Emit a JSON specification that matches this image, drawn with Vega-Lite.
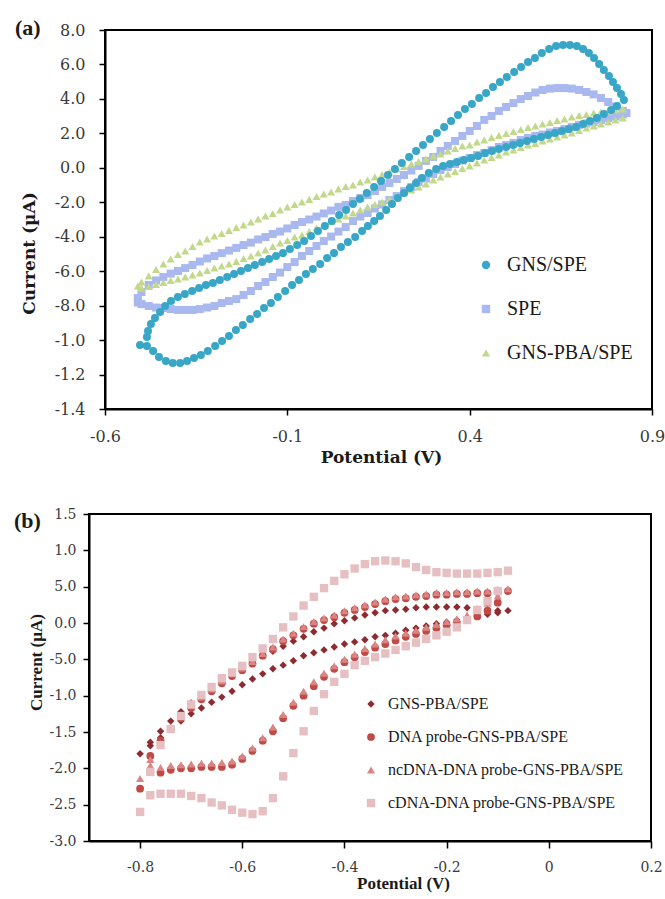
{
  "$schema": "https://vega.github.io/schema/vega-lite/v6.json",
  "padding": {"left": 13, "top": 16, "right": 5, "bottom": 5},
  "background": "white",
  "config": {
    "view": {"stroke": "black", "strokeWidth": 2},
    "axis": {"grid": false, "domainColor": "black", "domainWidth": 2, "tickColor": "black", "tickWidth": 1.5, "labelColor": "#3a3a3a", "titleColor": "#1a1a1a"}
  },
  "datasets": {
    "a": [
      {"s":"SPE","x":-0.51,"y":-7.56},{"s":"SPE","x":-0.50,"y":-7.21},{"s":"SPE","x":-0.48,"y":-6.80},{"s":"SPE","x":-0.46,"y":-6.54},{"s":"SPE","x":-0.44,"y":-6.34},{"s":"SPE","x":-0.42,"y":-6.14},{"s":"SPE","x":-0.40,"y":-5.99},{"s":"SPE","x":-0.38,"y":-5.82},{"s":"SPE","x":-0.36,"y":-5.64},{"s":"SPE","x":-0.34,"y":-5.44},{"s":"SPE","x":-0.32,"y":-5.26},{"s":"SPE","x":-0.30,"y":-5.12},{"s":"SPE","x":-0.28,"y":-4.95},{"s":"SPE","x":-0.26,"y":-4.80},{"s":"SPE","x":-0.24,"y":-4.65},{"s":"SPE","x":-0.22,"y":-4.48},{"s":"SPE","x":-0.20,"y":-4.34},{"s":"SPE","x":-0.18,"y":-4.16},{"s":"SPE","x":-0.16,"y":-4.02},{"s":"SPE","x":-0.14,"y":-3.84},{"s":"SPE","x":-0.12,"y":-3.70},{"s":"SPE","x":-0.10,"y":-3.52},{"s":"SPE","x":-0.08,"y":-3.32},{"s":"SPE","x":-0.06,"y":-3.15},{"s":"SPE","x":-0.04,"y":-3.00},{"s":"SPE","x":-0.02,"y":-2.83},{"s":"SPE","x":0.00,"y":-2.65},{"s":"SPE","x":0.02,"y":-2.48},{"s":"SPE","x":0.04,"y":-2.27},{"s":"SPE","x":0.06,"y":-2.16},{"s":"SPE","x":0.08,"y":-1.93},{"s":"SPE","x":0.10,"y":-1.75},{"s":"SPE","x":0.12,"y":-1.58},{"s":"SPE","x":0.14,"y":-1.35},{"s":"SPE","x":0.16,"y":-1.11},{"s":"SPE","x":0.18,"y":-0.88},{"s":"SPE","x":0.20,"y":-0.65},{"s":"SPE","x":0.22,"y":-0.42},{"s":"SPE","x":0.24,"y":-0.16},{"s":"SPE","x":0.26,"y":0.11},{"s":"SPE","x":0.28,"y":0.40},{"s":"SPE","x":0.30,"y":0.63},{"s":"SPE","x":0.32,"y":0.98},{"s":"SPE","x":0.34,"y":1.27},{"s":"SPE","x":0.36,"y":1.56},{"s":"SPE","x":0.38,"y":1.85},{"s":"SPE","x":0.40,"y":2.14},{"s":"SPE","x":0.42,"y":2.43},{"s":"SPE","x":0.44,"y":2.78},{"s":"SPE","x":0.46,"y":3.01},{"s":"SPE","x":0.48,"y":3.30},{"s":"SPE","x":0.50,"y":3.53},{"s":"SPE","x":0.52,"y":3.76},{"s":"SPE","x":0.54,"y":3.99},{"s":"SPE","x":0.56,"y":4.17},{"s":"SPE","x":0.58,"y":4.37},{"s":"SPE","x":0.60,"y":4.52},{"s":"SPE","x":0.62,"y":4.60},{"s":"SPE","x":0.64,"y":4.63},{"s":"SPE","x":0.66,"y":4.63},{"s":"SPE","x":0.68,"y":4.60},{"s":"SPE","x":0.70,"y":4.52},{"s":"SPE","x":0.72,"y":4.40},{"s":"SPE","x":0.74,"y":4.26},{"s":"SPE","x":0.76,"y":4.05},{"s":"SPE","x":0.78,"y":3.82},{"s":"SPE","x":0.80,"y":3.56},{"s":"SPE","x":0.82,"y":3.30},{"s":"SPE","x":0.83,"y":3.18},
      {"s":"SPE","x":-0.51,"y":-7.82},{"s":"SPE","x":-0.50,"y":-7.91},{"s":"SPE","x":-0.48,"y":-8.02},{"s":"SPE","x":-0.46,"y":-8.11},{"s":"SPE","x":-0.44,"y":-8.14},{"s":"SPE","x":-0.42,"y":-8.20},{"s":"SPE","x":-0.40,"y":-8.25},{"s":"SPE","x":-0.38,"y":-8.25},{"s":"SPE","x":-0.36,"y":-8.25},{"s":"SPE","x":-0.34,"y":-8.20},{"s":"SPE","x":-0.32,"y":-8.11},{"s":"SPE","x":-0.30,"y":-8.02},{"s":"SPE","x":-0.28,"y":-7.85},{"s":"SPE","x":-0.26,"y":-7.73},{"s":"SPE","x":-0.24,"y":-7.62},{"s":"SPE","x":-0.22,"y":-7.38},{"s":"SPE","x":-0.20,"y":-7.15},{"s":"SPE","x":-0.18,"y":-6.86},{"s":"SPE","x":-0.16,"y":-6.63},{"s":"SPE","x":-0.14,"y":-6.34},{"s":"SPE","x":-0.12,"y":-6.08},{"s":"SPE","x":-0.10,"y":-5.76},{"s":"SPE","x":-0.08,"y":-5.47},{"s":"SPE","x":-0.06,"y":-5.12},{"s":"SPE","x":-0.04,"y":-4.83},{"s":"SPE","x":-0.02,"y":-4.54},{"s":"SPE","x":0.00,"y":-4.25},{"s":"SPE","x":0.02,"y":-3.99},{"s":"SPE","x":0.04,"y":-3.70},{"s":"SPE","x":0.06,"y":-3.44},{"s":"SPE","x":0.08,"y":-3.09},{"s":"SPE","x":0.10,"y":-2.83},{"s":"SPE","x":0.12,"y":-2.62},{"s":"SPE","x":0.14,"y":-2.36},{"s":"SPE","x":0.16,"y":-2.13},{"s":"SPE","x":0.18,"y":-1.87},{"s":"SPE","x":0.20,"y":-1.64},{"s":"SPE","x":0.22,"y":-1.35},{"s":"SPE","x":0.24,"y":-1.11},{"s":"SPE","x":0.26,"y":-0.82},{"s":"SPE","x":0.28,"y":-0.62},{"s":"SPE","x":0.30,"y":-0.36},{"s":"SPE","x":0.32,"y":-0.13},{"s":"SPE","x":0.34,"y":0.05},{"s":"SPE","x":0.36,"y":0.22},{"s":"SPE","x":0.38,"y":0.42},{"s":"SPE","x":0.40,"y":0.57},{"s":"SPE","x":0.42,"y":0.74},{"s":"SPE","x":0.44,"y":0.86},{"s":"SPE","x":0.46,"y":1.03},{"s":"SPE","x":0.48,"y":1.21},{"s":"SPE","x":0.50,"y":1.32},{"s":"SPE","x":0.52,"y":1.44},{"s":"SPE","x":0.54,"y":1.61},{"s":"SPE","x":0.56,"y":1.73},{"s":"SPE","x":0.58,"y":1.85},{"s":"SPE","x":0.60,"y":1.93},{"s":"SPE","x":0.62,"y":2.05},{"s":"SPE","x":0.64,"y":2.14},{"s":"SPE","x":0.66,"y":2.25},{"s":"SPE","x":0.68,"y":2.37},{"s":"SPE","x":0.70,"y":2.49},{"s":"SPE","x":0.72,"y":2.57},{"s":"SPE","x":0.74,"y":2.66},{"s":"SPE","x":0.76,"y":2.78},{"s":"SPE","x":0.78,"y":2.89},{"s":"SPE","x":0.80,"y":2.98},{"s":"SPE","x":0.82,"y":3.10},
      {"s":"GNS-PBA/SPE","x":-0.51,"y":-6.86},{"s":"GNS-PBA/SPE","x":-0.50,"y":-6.63},{"s":"GNS-PBA/SPE","x":-0.48,"y":-6.28},{"s":"GNS-PBA/SPE","x":-0.46,"y":-5.90},{"s":"GNS-PBA/SPE","x":-0.44,"y":-5.58},{"s":"GNS-PBA/SPE","x":-0.42,"y":-5.29},{"s":"GNS-PBA/SPE","x":-0.40,"y":-5.03},{"s":"GNS-PBA/SPE","x":-0.38,"y":-4.83},{"s":"GNS-PBA/SPE","x":-0.36,"y":-4.57},{"s":"GNS-PBA/SPE","x":-0.34,"y":-4.31},{"s":"GNS-PBA/SPE","x":-0.32,"y":-4.13},{"s":"GNS-PBA/SPE","x":-0.30,"y":-3.96},{"s":"GNS-PBA/SPE","x":-0.28,"y":-3.81},{"s":"GNS-PBA/SPE","x":-0.26,"y":-3.64},{"s":"GNS-PBA/SPE","x":-0.24,"y":-3.46},{"s":"GNS-PBA/SPE","x":-0.22,"y":-3.32},{"s":"GNS-PBA/SPE","x":-0.20,"y":-3.15},{"s":"GNS-PBA/SPE","x":-0.18,"y":-2.97},{"s":"GNS-PBA/SPE","x":-0.16,"y":-2.80},{"s":"GNS-PBA/SPE","x":-0.14,"y":-2.65},{"s":"GNS-PBA/SPE","x":-0.12,"y":-2.45},{"s":"GNS-PBA/SPE","x":-0.10,"y":-2.27},{"s":"GNS-PBA/SPE","x":-0.08,"y":-2.13},{"s":"GNS-PBA/SPE","x":-0.06,"y":-1.98},{"s":"GNS-PBA/SPE","x":-0.04,"y":-1.84},{"s":"GNS-PBA/SPE","x":-0.02,"y":-1.66},{"s":"GNS-PBA/SPE","x":0.00,"y":-1.52},{"s":"GNS-PBA/SPE","x":0.02,"y":-1.40},{"s":"GNS-PBA/SPE","x":0.04,"y":-1.23},{"s":"GNS-PBA/SPE","x":0.06,"y":-1.08},{"s":"GNS-PBA/SPE","x":0.08,"y":-1.00},{"s":"GNS-PBA/SPE","x":0.10,"y":-0.82},{"s":"GNS-PBA/SPE","x":0.12,"y":-0.71},{"s":"GNS-PBA/SPE","x":0.14,"y":-0.53},{"s":"GNS-PBA/SPE","x":0.16,"y":-0.39},{"s":"GNS-PBA/SPE","x":0.18,"y":-0.24},{"s":"GNS-PBA/SPE","x":0.20,"y":-0.07},{"s":"GNS-PBA/SPE","x":0.22,"y":0.08},{"s":"GNS-PBA/SPE","x":0.24,"y":0.22},{"s":"GNS-PBA/SPE","x":0.26,"y":0.37},{"s":"GNS-PBA/SPE","x":0.28,"y":0.51},{"s":"GNS-PBA/SPE","x":0.30,"y":0.69},{"s":"GNS-PBA/SPE","x":0.32,"y":0.80},{"s":"GNS-PBA/SPE","x":0.34,"y":0.98},{"s":"GNS-PBA/SPE","x":0.36,"y":1.12},{"s":"GNS-PBA/SPE","x":0.38,"y":1.27},{"s":"GNS-PBA/SPE","x":0.40,"y":1.32},{"s":"GNS-PBA/SPE","x":0.42,"y":1.50},{"s":"GNS-PBA/SPE","x":0.44,"y":1.61},{"s":"GNS-PBA/SPE","x":0.46,"y":1.76},{"s":"GNS-PBA/SPE","x":0.48,"y":1.88},{"s":"GNS-PBA/SPE","x":0.50,"y":1.99},{"s":"GNS-PBA/SPE","x":0.52,"y":2.11},{"s":"GNS-PBA/SPE","x":0.54,"y":2.22},{"s":"GNS-PBA/SPE","x":0.56,"y":2.34},{"s":"GNS-PBA/SPE","x":0.58,"y":2.43},{"s":"GNS-PBA/SPE","x":0.60,"y":2.54},{"s":"GNS-PBA/SPE","x":0.62,"y":2.63},{"s":"GNS-PBA/SPE","x":0.64,"y":2.75},{"s":"GNS-PBA/SPE","x":0.66,"y":2.83},{"s":"GNS-PBA/SPE","x":0.68,"y":2.95},{"s":"GNS-PBA/SPE","x":0.70,"y":3.04},{"s":"GNS-PBA/SPE","x":0.72,"y":3.10},{"s":"GNS-PBA/SPE","x":0.74,"y":3.18},{"s":"GNS-PBA/SPE","x":0.76,"y":3.24},{"s":"GNS-PBA/SPE","x":0.78,"y":3.30},{"s":"GNS-PBA/SPE","x":0.80,"y":3.36},{"s":"GNS-PBA/SPE","x":0.82,"y":3.41},
      {"s":"GNS-PBA/SPE","x":-0.50,"y":-6.98},{"s":"GNS-PBA/SPE","x":-0.48,"y":-6.89},{"s":"GNS-PBA/SPE","x":-0.46,"y":-6.77},{"s":"GNS-PBA/SPE","x":-0.44,"y":-6.66},{"s":"GNS-PBA/SPE","x":-0.42,"y":-6.54},{"s":"GNS-PBA/SPE","x":-0.40,"y":-6.45},{"s":"GNS-PBA/SPE","x":-0.38,"y":-6.34},{"s":"GNS-PBA/SPE","x":-0.36,"y":-6.22},{"s":"GNS-PBA/SPE","x":-0.34,"y":-6.11},{"s":"GNS-PBA/SPE","x":-0.32,"y":-5.96},{"s":"GNS-PBA/SPE","x":-0.30,"y":-5.82},{"s":"GNS-PBA/SPE","x":-0.28,"y":-5.70},{"s":"GNS-PBA/SPE","x":-0.26,"y":-5.58},{"s":"GNS-PBA/SPE","x":-0.24,"y":-5.44},{"s":"GNS-PBA/SPE","x":-0.22,"y":-5.26},{"s":"GNS-PBA/SPE","x":-0.20,"y":-5.12},{"s":"GNS-PBA/SPE","x":-0.18,"y":-4.95},{"s":"GNS-PBA/SPE","x":-0.16,"y":-4.77},{"s":"GNS-PBA/SPE","x":-0.14,"y":-4.57},{"s":"GNS-PBA/SPE","x":-0.12,"y":-4.36},{"s":"GNS-PBA/SPE","x":-0.10,"y":-4.22},{"s":"GNS-PBA/SPE","x":-0.08,"y":-4.02},{"s":"GNS-PBA/SPE","x":-0.06,"y":-3.90},{"s":"GNS-PBA/SPE","x":-0.04,"y":-3.70},{"s":"GNS-PBA/SPE","x":-0.02,"y":-3.49},{"s":"GNS-PBA/SPE","x":0.00,"y":-3.32},{"s":"GNS-PBA/SPE","x":0.02,"y":-3.12},{"s":"GNS-PBA/SPE","x":0.04,"y":-2.97},{"s":"GNS-PBA/SPE","x":0.06,"y":-2.80},{"s":"GNS-PBA/SPE","x":0.08,"y":-2.62},{"s":"GNS-PBA/SPE","x":0.10,"y":-2.45},{"s":"GNS-PBA/SPE","x":0.12,"y":-2.27},{"s":"GNS-PBA/SPE","x":0.14,"y":-2.13},{"s":"GNS-PBA/SPE","x":0.16,"y":-1.98},{"s":"GNS-PBA/SPE","x":0.18,"y":-1.81},{"s":"GNS-PBA/SPE","x":0.20,"y":-1.64},{"s":"GNS-PBA/SPE","x":0.22,"y":-1.46},{"s":"GNS-PBA/SPE","x":0.24,"y":-1.29},{"s":"GNS-PBA/SPE","x":0.26,"y":-1.11},{"s":"GNS-PBA/SPE","x":0.28,"y":-0.94},{"s":"GNS-PBA/SPE","x":0.30,"y":-0.71},{"s":"GNS-PBA/SPE","x":0.32,"y":-0.53},{"s":"GNS-PBA/SPE","x":0.34,"y":-0.36},{"s":"GNS-PBA/SPE","x":0.36,"y":-0.21},{"s":"GNS-PBA/SPE","x":0.38,"y":-0.04},{"s":"GNS-PBA/SPE","x":0.40,"y":0.11},{"s":"GNS-PBA/SPE","x":0.42,"y":0.28},{"s":"GNS-PBA/SPE","x":0.44,"y":0.45},{"s":"GNS-PBA/SPE","x":0.46,"y":0.60},{"s":"GNS-PBA/SPE","x":0.48,"y":0.74},{"s":"GNS-PBA/SPE","x":0.50,"y":0.92},{"s":"GNS-PBA/SPE","x":0.52,"y":1.03},{"s":"GNS-PBA/SPE","x":0.54,"y":1.18},{"s":"GNS-PBA/SPE","x":0.56,"y":1.32},{"s":"GNS-PBA/SPE","x":0.58,"y":1.41},{"s":"GNS-PBA/SPE","x":0.60,"y":1.56},{"s":"GNS-PBA/SPE","x":0.62,"y":1.67},{"s":"GNS-PBA/SPE","x":0.64,"y":1.79},{"s":"GNS-PBA/SPE","x":0.66,"y":1.90},{"s":"GNS-PBA/SPE","x":0.68,"y":2.02},{"s":"GNS-PBA/SPE","x":0.70,"y":2.17},{"s":"GNS-PBA/SPE","x":0.72,"y":2.31},{"s":"GNS-PBA/SPE","x":0.74,"y":2.43},{"s":"GNS-PBA/SPE","x":0.76,"y":2.54},{"s":"GNS-PBA/SPE","x":0.78,"y":2.66},{"s":"GNS-PBA/SPE","x":0.80,"y":2.78},{"s":"GNS-PBA/SPE","x":0.82,"y":2.89},
      {"s":"GNS/SPE","x":-0.504,"y":-10.29},{"s":"GNS/SPE","x":-0.485,"y":-10.34},{"s":"GNS/SPE","x":-0.468,"y":-10.63},{"s":"GNS/SPE","x":-0.452,"y":-10.98},{"s":"GNS/SPE","x":-0.433,"y":-11.21},{"s":"GNS/SPE","x":-0.414,"y":-11.33},{"s":"GNS/SPE","x":-0.394,"y":-11.33},{"s":"GNS/SPE","x":-0.375,"y":-11.21},{"s":"GNS/SPE","x":-0.356,"y":-11.04},{"s":"GNS/SPE","x":-0.337,"y":-10.87},{"s":"GNS/SPE","x":-0.318,"y":-10.63},{"s":"GNS/SPE","x":-0.298,"y":-10.34},{"s":"GNS/SPE","x":-0.279,"y":-10.05},{"s":"GNS/SPE","x":-0.260,"y":-9.76},{"s":"GNS/SPE","x":-0.241,"y":-9.42},{"s":"GNS/SPE","x":-0.222,"y":-9.12},{"s":"GNS/SPE","x":-0.202,"y":-8.78},{"s":"GNS/SPE","x":-0.183,"y":-8.49},{"s":"GNS/SPE","x":-0.164,"y":-8.14},{"s":"GNS/SPE","x":-0.145,"y":-7.85},{"s":"GNS/SPE","x":-0.126,"y":-7.50},{"s":"GNS/SPE","x":-0.106,"y":-7.15},{"s":"GNS/SPE","x":-0.087,"y":-6.80},{"s":"GNS/SPE","x":-0.068,"y":-6.51},{"s":"GNS/SPE","x":-0.049,"y":-6.16},{"s":"GNS/SPE","x":-0.030,"y":-5.87},{"s":"GNS/SPE","x":-0.010,"y":-5.58},{"s":"GNS/SPE","x":0.009,"y":-5.24},{"s":"GNS/SPE","x":0.028,"y":-4.95},{"s":"GNS/SPE","x":0.047,"y":-4.60},{"s":"GNS/SPE","x":0.066,"y":-4.31},{"s":"GNS/SPE","x":0.086,"y":-4.02},{"s":"GNS/SPE","x":0.105,"y":-3.67},{"s":"GNS/SPE","x":0.121,"y":-3.38},{"s":"GNS/SPE","x":0.138,"y":-3.09},{"s":"GNS/SPE","x":0.154,"y":-2.80},{"s":"GNS/SPE","x":0.171,"y":-2.45},{"s":"GNS/SPE","x":0.187,"y":-2.10},{"s":"GNS/SPE","x":0.203,"y":-1.75},{"s":"GNS/SPE","x":0.220,"y":-1.46},{"s":"GNS/SPE","x":0.236,"y":-1.17},{"s":"GNS/SPE","x":0.253,"y":-0.88},{"s":"GNS/SPE","x":0.269,"y":-0.59},{"s":"GNS/SPE","x":0.288,"y":-0.30},{"s":"GNS/SPE","x":0.308,"y":-0.07},{"s":"GNS/SPE","x":0.327,"y":0.11},{"s":"GNS/SPE","x":0.346,"y":0.22},{"s":"GNS/SPE","x":0.365,"y":0.34},{"s":"GNS/SPE","x":0.384,"y":0.45},{"s":"GNS/SPE","x":0.404,"y":0.57},{"s":"GNS/SPE","x":0.423,"y":0.69},{"s":"GNS/SPE","x":0.442,"y":0.86},{"s":"GNS/SPE","x":0.461,"y":0.98},{"s":"GNS/SPE","x":0.480,"y":1.09},{"s":"GNS/SPE","x":0.500,"y":1.21},{"s":"GNS/SPE","x":0.519,"y":1.32},{"s":"GNS/SPE","x":0.538,"y":1.44},{"s":"GNS/SPE","x":0.557,"y":1.56},{"s":"GNS/SPE","x":0.576,"y":1.67},{"s":"GNS/SPE","x":0.596,"y":1.79},{"s":"GNS/SPE","x":0.615,"y":1.90},{"s":"GNS/SPE","x":0.634,"y":2.02},{"s":"GNS/SPE","x":0.653,"y":2.14},{"s":"GNS/SPE","x":0.672,"y":2.25},{"s":"GNS/SPE","x":0.692,"y":2.37},{"s":"GNS/SPE","x":0.711,"y":2.54},{"s":"GNS/SPE","x":0.730,"y":2.72},{"s":"GNS/SPE","x":0.749,"y":2.89},{"s":"GNS/SPE","x":0.768,"y":3.12},{"s":"GNS/SPE","x":0.788,"y":3.36},{"s":"GNS/SPE","x":0.804,"y":3.59},
      {"s":"GNS/SPE","x":0.823,"y":3.94},{"s":"GNS/SPE","x":0.815,"y":4.28},{"s":"GNS/SPE","x":0.804,"y":4.63},{"s":"GNS/SPE","x":0.793,"y":4.98},{"s":"GNS/SPE","x":0.782,"y":5.33},{"s":"GNS/SPE","x":0.768,"y":5.68},{"s":"GNS/SPE","x":0.755,"y":6.03},{"s":"GNS/SPE","x":0.741,"y":6.37},{"s":"GNS/SPE","x":0.727,"y":6.66},{"s":"GNS/SPE","x":0.711,"y":6.90},{"s":"GNS/SPE","x":0.694,"y":7.07},{"s":"GNS/SPE","x":0.675,"y":7.13},{"s":"GNS/SPE","x":0.656,"y":7.13},{"s":"GNS/SPE","x":0.637,"y":7.07},{"s":"GNS/SPE","x":0.618,"y":6.90},{"s":"GNS/SPE","x":0.598,"y":6.66},{"s":"GNS/SPE","x":0.579,"y":6.37},{"s":"GNS/SPE","x":0.560,"y":6.14},{"s":"GNS/SPE","x":0.541,"y":5.85},{"s":"GNS/SPE","x":0.522,"y":5.56},{"s":"GNS/SPE","x":0.502,"y":5.27},{"s":"GNS/SPE","x":0.483,"y":4.98},{"s":"GNS/SPE","x":0.464,"y":4.69},{"s":"GNS/SPE","x":0.445,"y":4.34},{"s":"GNS/SPE","x":0.426,"y":4.05},{"s":"GNS/SPE","x":0.406,"y":3.70},{"s":"GNS/SPE","x":0.387,"y":3.41},{"s":"GNS/SPE","x":0.368,"y":3.07},{"s":"GNS/SPE","x":0.349,"y":2.72},{"s":"GNS/SPE","x":0.330,"y":2.37},{"s":"GNS/SPE","x":0.310,"y":2.02},{"s":"GNS/SPE","x":0.291,"y":1.67},{"s":"GNS/SPE","x":0.272,"y":1.32},{"s":"GNS/SPE","x":0.253,"y":0.98},{"s":"GNS/SPE","x":0.234,"y":0.63},{"s":"GNS/SPE","x":0.214,"y":0.28},{"s":"GNS/SPE","x":0.195,"y":-0.07},{"s":"GNS/SPE","x":0.176,"y":-0.42},{"s":"GNS/SPE","x":0.157,"y":-0.77},{"s":"GNS/SPE","x":0.138,"y":-1.11},{"s":"GNS/SPE","x":0.118,"y":-1.46},{"s":"GNS/SPE","x":0.099,"y":-1.81},{"s":"GNS/SPE","x":0.080,"y":-2.10},{"s":"GNS/SPE","x":0.061,"y":-2.45},{"s":"GNS/SPE","x":0.042,"y":-2.74},{"s":"GNS/SPE","x":0.022,"y":-3.09},{"s":"GNS/SPE","x":0.003,"y":-3.38},{"s":"GNS/SPE","x":-0.016,"y":-3.67},{"s":"GNS/SPE","x":-0.035,"y":-3.96},{"s":"GNS/SPE","x":-0.054,"y":-4.25},{"s":"GNS/SPE","x":-0.073,"y":-4.48},{"s":"GNS/SPE","x":-0.093,"y":-4.71},{"s":"GNS/SPE","x":-0.112,"y":-4.95},{"s":"GNS/SPE","x":-0.131,"y":-5.12},{"s":"GNS/SPE","x":-0.150,"y":-5.29},{"s":"GNS/SPE","x":-0.169,"y":-5.47},{"s":"GNS/SPE","x":-0.189,"y":-5.64},{"s":"GNS/SPE","x":-0.208,"y":-5.82},{"s":"GNS/SPE","x":-0.227,"y":-5.99},{"s":"GNS/SPE","x":-0.246,"y":-6.16},{"s":"GNS/SPE","x":-0.265,"y":-6.34},{"s":"GNS/SPE","x":-0.285,"y":-6.51},{"s":"GNS/SPE","x":-0.304,"y":-6.69},{"s":"GNS/SPE","x":-0.323,"y":-6.80},{"s":"GNS/SPE","x":-0.342,"y":-6.98},{"s":"GNS/SPE","x":-0.361,"y":-7.15},{"s":"GNS/SPE","x":-0.381,"y":-7.32},{"s":"GNS/SPE","x":-0.400,"y":-7.50},{"s":"GNS/SPE","x":-0.419,"y":-7.73},{"s":"GNS/SPE","x":-0.435,"y":-8.02},{"s":"GNS/SPE","x":-0.449,"y":-8.37},{"s":"GNS/SPE","x":-0.463,"y":-8.72},{"s":"GNS/SPE","x":-0.474,"y":-9.07},{"s":"GNS/SPE","x":-0.482,"y":-9.47},{"s":"GNS/SPE","x":-0.485,"y":-9.82}
    ],
    "b": [
      {"s":"GNS-PBA/SPE","x":-0.80,"y":-18.0},{"s":"GNS-PBA/SPE","x":-0.78,"y":-16.4},{"s":"GNS-PBA/SPE","x":-0.76,"y":-14.9},{"s":"GNS-PBA/SPE","x":-0.74,"y":-13.5},{"s":"GNS-PBA/SPE","x":-0.72,"y":-12.2},{"s":"GNS-PBA/SPE","x":-0.70,"y":-11.0},{"s":"GNS-PBA/SPE","x":-0.68,"y":-10.0},{"s":"GNS-PBA/SPE","x":-0.66,"y":-8.9},{"s":"GNS-PBA/SPE","x":-0.64,"y":-7.8},{"s":"GNS-PBA/SPE","x":-0.62,"y":-7.0},{"s":"GNS-PBA/SPE","x":-0.60,"y":-6.2},{"s":"GNS-PBA/SPE","x":-0.58,"y":-5.4},{"s":"GNS-PBA/SPE","x":-0.56,"y":-4.5},{"s":"GNS-PBA/SPE","x":-0.54,"y":-3.9},{"s":"GNS-PBA/SPE","x":-0.52,"y":-3.2},{"s":"GNS-PBA/SPE","x":-0.50,"y":-2.5},{"s":"GNS-PBA/SPE","x":-0.48,"y":-1.9},{"s":"GNS-PBA/SPE","x":-0.46,"y":-1.2},{"s":"GNS-PBA/SPE","x":-0.44,"y":-0.7},{"s":"GNS-PBA/SPE","x":-0.42,"y":-0.1},{"s":"GNS-PBA/SPE","x":-0.40,"y":0.3},{"s":"GNS-PBA/SPE","x":-0.38,"y":0.7},{"s":"GNS-PBA/SPE","x":-0.36,"y":1.1},{"s":"GNS-PBA/SPE","x":-0.34,"y":1.4},{"s":"GNS-PBA/SPE","x":-0.32,"y":1.7},{"s":"GNS-PBA/SPE","x":-0.30,"y":1.8},{"s":"GNS-PBA/SPE","x":-0.28,"y":1.9},{"s":"GNS-PBA/SPE","x":-0.26,"y":2.1},{"s":"GNS-PBA/SPE","x":-0.24,"y":2.2},{"s":"GNS-PBA/SPE","x":-0.22,"y":2.2},{"s":"GNS-PBA/SPE","x":-0.20,"y":2.2},{"s":"GNS-PBA/SPE","x":-0.18,"y":2.2},{"s":"GNS-PBA/SPE","x":-0.16,"y":2.1},{"s":"GNS-PBA/SPE","x":-0.14,"y":1.9},{"s":"GNS-PBA/SPE","x":-0.12,"y":1.8},{"s":"GNS-PBA/SPE","x":-0.10,"y":1.7},{"s":"GNS-PBA/SPE","x":-0.08,"y":1.7},
      {"s":"GNS-PBA/SPE","x":-0.78,"y":-16.9},{"s":"GNS-PBA/SPE","x":-0.76,"y":-15.8},{"s":"GNS-PBA/SPE","x":-0.74,"y":-14.6},{"s":"GNS-PBA/SPE","x":-0.72,"y":-13.5},{"s":"GNS-PBA/SPE","x":-0.70,"y":-12.5},{"s":"GNS-PBA/SPE","x":-0.68,"y":-11.7},{"s":"GNS-PBA/SPE","x":-0.66,"y":-10.9},{"s":"GNS-PBA/SPE","x":-0.64,"y":-10.2},{"s":"GNS-PBA/SPE","x":-0.62,"y":-9.4},{"s":"GNS-PBA/SPE","x":-0.60,"y":-8.5},{"s":"GNS-PBA/SPE","x":-0.58,"y":-7.7},{"s":"GNS-PBA/SPE","x":-0.56,"y":-7.0},{"s":"GNS-PBA/SPE","x":-0.54,"y":-6.3},{"s":"GNS-PBA/SPE","x":-0.52,"y":-5.8},{"s":"GNS-PBA/SPE","x":-0.50,"y":-5.2},{"s":"GNS-PBA/SPE","x":-0.48,"y":-4.5},{"s":"GNS-PBA/SPE","x":-0.46,"y":-4.1},{"s":"GNS-PBA/SPE","x":-0.44,"y":-3.7},{"s":"GNS-PBA/SPE","x":-0.42,"y":-3.3},{"s":"GNS-PBA/SPE","x":-0.40,"y":-2.9},{"s":"GNS-PBA/SPE","x":-0.38,"y":-2.6},{"s":"GNS-PBA/SPE","x":-0.36,"y":-2.3},{"s":"GNS-PBA/SPE","x":-0.34,"y":-1.9},{"s":"GNS-PBA/SPE","x":-0.32,"y":-1.7},{"s":"GNS-PBA/SPE","x":-0.30,"y":-1.4},{"s":"GNS-PBA/SPE","x":-0.28,"y":-1.0},{"s":"GNS-PBA/SPE","x":-0.26,"y":-0.7},{"s":"GNS-PBA/SPE","x":-0.24,"y":-0.4},{"s":"GNS-PBA/SPE","x":-0.22,"y":-0.1},{"s":"GNS-PBA/SPE","x":-0.20,"y":0.1},{"s":"GNS-PBA/SPE","x":-0.18,"y":0.4},{"s":"GNS-PBA/SPE","x":-0.16,"y":0.7},{"s":"GNS-PBA/SPE","x":-0.14,"y":1.0},{"s":"GNS-PBA/SPE","x":-0.12,"y":1.2},{"s":"GNS-PBA/SPE","x":-0.10,"y":1.4},
      {"s":"DNA probe-GNS-PBA/SPE","x":-0.80,"y":-22.8},{"s":"DNA probe-GNS-PBA/SPE","x":-0.78,"y":-18.3},{"s":"DNA probe-GNS-PBA/SPE","x":-0.76,"y":-16.2},{"s":"DNA probe-GNS-PBA/SPE","x":-0.74,"y":-14.6},{"s":"DNA probe-GNS-PBA/SPE","x":-0.72,"y":-13.1},{"s":"DNA probe-GNS-PBA/SPE","x":-0.70,"y":-11.7},{"s":"DNA probe-GNS-PBA/SPE","x":-0.68,"y":-10.5},{"s":"DNA probe-GNS-PBA/SPE","x":-0.66,"y":-9.4},{"s":"DNA probe-GNS-PBA/SPE","x":-0.64,"y":-8.3},{"s":"DNA probe-GNS-PBA/SPE","x":-0.62,"y":-7.3},{"s":"DNA probe-GNS-PBA/SPE","x":-0.60,"y":-6.5},{"s":"DNA probe-GNS-PBA/SPE","x":-0.58,"y":-5.6},{"s":"DNA probe-GNS-PBA/SPE","x":-0.56,"y":-4.5},{"s":"DNA probe-GNS-PBA/SPE","x":-0.54,"y":-3.6},{"s":"DNA probe-GNS-PBA/SPE","x":-0.52,"y":-2.5},{"s":"DNA probe-GNS-PBA/SPE","x":-0.50,"y":-1.7},{"s":"DNA probe-GNS-PBA/SPE","x":-0.48,"y":-0.8},{"s":"DNA probe-GNS-PBA/SPE","x":-0.46,"y":-0.1},{"s":"DNA probe-GNS-PBA/SPE","x":-0.44,"y":0.4},{"s":"DNA probe-GNS-PBA/SPE","x":-0.42,"y":0.8},{"s":"DNA probe-GNS-PBA/SPE","x":-0.40,"y":1.4},{"s":"DNA probe-GNS-PBA/SPE","x":-0.38,"y":1.8},{"s":"DNA probe-GNS-PBA/SPE","x":-0.36,"y":2.2},{"s":"DNA probe-GNS-PBA/SPE","x":-0.34,"y":2.6},{"s":"DNA probe-GNS-PBA/SPE","x":-0.32,"y":3.0},{"s":"DNA probe-GNS-PBA/SPE","x":-0.30,"y":3.3},{"s":"DNA probe-GNS-PBA/SPE","x":-0.28,"y":3.4},{"s":"DNA probe-GNS-PBA/SPE","x":-0.26,"y":3.6},{"s":"DNA probe-GNS-PBA/SPE","x":-0.24,"y":3.7},{"s":"DNA probe-GNS-PBA/SPE","x":-0.22,"y":3.9},{"s":"DNA probe-GNS-PBA/SPE","x":-0.20,"y":3.9},{"s":"DNA probe-GNS-PBA/SPE","x":-0.18,"y":4.0},{"s":"DNA probe-GNS-PBA/SPE","x":-0.16,"y":4.0},{"s":"DNA probe-GNS-PBA/SPE","x":-0.14,"y":4.1},{"s":"DNA probe-GNS-PBA/SPE","x":-0.12,"y":4.1},{"s":"DNA probe-GNS-PBA/SPE","x":-0.10,"y":4.3},{"s":"DNA probe-GNS-PBA/SPE","x":-0.08,"y":4.4},
      {"s":"DNA probe-GNS-PBA/SPE","x":-0.78,"y":-20.4},{"s":"DNA probe-GNS-PBA/SPE","x":-0.76,"y":-20.6},{"s":"DNA probe-GNS-PBA/SPE","x":-0.74,"y":-20.2},{"s":"DNA probe-GNS-PBA/SPE","x":-0.72,"y":-20.0},{"s":"DNA probe-GNS-PBA/SPE","x":-0.70,"y":-20.0},{"s":"DNA probe-GNS-PBA/SPE","x":-0.68,"y":-19.8},{"s":"DNA probe-GNS-PBA/SPE","x":-0.66,"y":-19.8},{"s":"DNA probe-GNS-PBA/SPE","x":-0.64,"y":-19.8},{"s":"DNA probe-GNS-PBA/SPE","x":-0.62,"y":-19.5},{"s":"DNA probe-GNS-PBA/SPE","x":-0.60,"y":-18.7},{"s":"DNA probe-GNS-PBA/SPE","x":-0.58,"y":-17.6},{"s":"DNA probe-GNS-PBA/SPE","x":-0.56,"y":-16.2},{"s":"DNA probe-GNS-PBA/SPE","x":-0.54,"y":-14.9},{"s":"DNA probe-GNS-PBA/SPE","x":-0.52,"y":-13.1},{"s":"DNA probe-GNS-PBA/SPE","x":-0.50,"y":-11.4},{"s":"DNA probe-GNS-PBA/SPE","x":-0.48,"y":-10.0},{"s":"DNA probe-GNS-PBA/SPE","x":-0.46,"y":-8.7},{"s":"DNA probe-GNS-PBA/SPE","x":-0.44,"y":-7.4},{"s":"DNA probe-GNS-PBA/SPE","x":-0.42,"y":-6.3},{"s":"DNA probe-GNS-PBA/SPE","x":-0.40,"y":-5.4},{"s":"DNA probe-GNS-PBA/SPE","x":-0.38,"y":-4.7},{"s":"DNA probe-GNS-PBA/SPE","x":-0.36,"y":-4.0},{"s":"DNA probe-GNS-PBA/SPE","x":-0.34,"y":-3.4},{"s":"DNA probe-GNS-PBA/SPE","x":-0.32,"y":-2.9},{"s":"DNA probe-GNS-PBA/SPE","x":-0.30,"y":-2.4},{"s":"DNA probe-GNS-PBA/SPE","x":-0.28,"y":-1.9},{"s":"DNA probe-GNS-PBA/SPE","x":-0.26,"y":-1.5},{"s":"DNA probe-GNS-PBA/SPE","x":-0.24,"y":-1.1},{"s":"DNA probe-GNS-PBA/SPE","x":-0.22,"y":-0.7},{"s":"DNA probe-GNS-PBA/SPE","x":-0.20,"y":-0.3},{"s":"DNA probe-GNS-PBA/SPE","x":-0.18,"y":0.0},{"s":"DNA probe-GNS-PBA/SPE","x":-0.16,"y":0.4},{"s":"DNA probe-GNS-PBA/SPE","x":-0.14,"y":0.9},{"s":"DNA probe-GNS-PBA/SPE","x":-0.12,"y":1.7},{"s":"DNA probe-GNS-PBA/SPE","x":-0.10,"y":2.8},
      {"s":"ncDNA-DNA probe-GNS-PBA/SPE","x":-0.80,"y":-21.4},{"s":"ncDNA-DNA probe-GNS-PBA/SPE","x":-0.78,"y":-18.8},{"s":"ncDNA-DNA probe-GNS-PBA/SPE","x":-0.76,"y":-16.6},{"s":"ncDNA-DNA probe-GNS-PBA/SPE","x":-0.74,"y":-14.3},{"s":"ncDNA-DNA probe-GNS-PBA/SPE","x":-0.72,"y":-12.8},{"s":"ncDNA-DNA probe-GNS-PBA/SPE","x":-0.70,"y":-11.4},{"s":"ncDNA-DNA probe-GNS-PBA/SPE","x":-0.68,"y":-10.2},{"s":"ncDNA-DNA probe-GNS-PBA/SPE","x":-0.66,"y":-9.1},{"s":"ncDNA-DNA probe-GNS-PBA/SPE","x":-0.64,"y":-8.0},{"s":"ncDNA-DNA probe-GNS-PBA/SPE","x":-0.62,"y":-7.0},{"s":"ncDNA-DNA probe-GNS-PBA/SPE","x":-0.60,"y":-6.2},{"s":"ncDNA-DNA probe-GNS-PBA/SPE","x":-0.58,"y":-5.3},{"s":"ncDNA-DNA probe-GNS-PBA/SPE","x":-0.56,"y":-4.2},{"s":"ncDNA-DNA probe-GNS-PBA/SPE","x":-0.54,"y":-3.3},{"s":"ncDNA-DNA probe-GNS-PBA/SPE","x":-0.52,"y":-2.2},{"s":"ncDNA-DNA probe-GNS-PBA/SPE","x":-0.50,"y":-1.4},{"s":"ncDNA-DNA probe-GNS-PBA/SPE","x":-0.48,"y":-0.5},{"s":"ncDNA-DNA probe-GNS-PBA/SPE","x":-0.46,"y":0.2},{"s":"ncDNA-DNA probe-GNS-PBA/SPE","x":-0.44,"y":0.7},{"s":"ncDNA-DNA probe-GNS-PBA/SPE","x":-0.42,"y":1.1},{"s":"ncDNA-DNA probe-GNS-PBA/SPE","x":-0.40,"y":1.7},{"s":"ncDNA-DNA probe-GNS-PBA/SPE","x":-0.38,"y":2.1},{"s":"ncDNA-DNA probe-GNS-PBA/SPE","x":-0.36,"y":2.5},{"s":"ncDNA-DNA probe-GNS-PBA/SPE","x":-0.34,"y":2.9},{"s":"ncDNA-DNA probe-GNS-PBA/SPE","x":-0.32,"y":3.3},{"s":"ncDNA-DNA probe-GNS-PBA/SPE","x":-0.30,"y":3.6},{"s":"ncDNA-DNA probe-GNS-PBA/SPE","x":-0.28,"y":3.7},{"s":"ncDNA-DNA probe-GNS-PBA/SPE","x":-0.26,"y":3.9},{"s":"ncDNA-DNA probe-GNS-PBA/SPE","x":-0.24,"y":4.0},{"s":"ncDNA-DNA probe-GNS-PBA/SPE","x":-0.22,"y":4.2},{"s":"ncDNA-DNA probe-GNS-PBA/SPE","x":-0.20,"y":4.2},{"s":"ncDNA-DNA probe-GNS-PBA/SPE","x":-0.18,"y":4.3},{"s":"ncDNA-DNA probe-GNS-PBA/SPE","x":-0.16,"y":4.3},{"s":"ncDNA-DNA probe-GNS-PBA/SPE","x":-0.14,"y":4.4},{"s":"ncDNA-DNA probe-GNS-PBA/SPE","x":-0.12,"y":4.4},{"s":"ncDNA-DNA probe-GNS-PBA/SPE","x":-0.10,"y":4.6},{"s":"ncDNA-DNA probe-GNS-PBA/SPE","x":-0.08,"y":4.7},
      {"s":"ncDNA-DNA probe-GNS-PBA/SPE","x":-0.78,"y":-19.6},{"s":"ncDNA-DNA probe-GNS-PBA/SPE","x":-0.76,"y":-19.9},{"s":"ncDNA-DNA probe-GNS-PBA/SPE","x":-0.74,"y":-19.6},{"s":"ncDNA-DNA probe-GNS-PBA/SPE","x":-0.72,"y":-19.5},{"s":"ncDNA-DNA probe-GNS-PBA/SPE","x":-0.70,"y":-19.4},{"s":"ncDNA-DNA probe-GNS-PBA/SPE","x":-0.68,"y":-19.3},{"s":"ncDNA-DNA probe-GNS-PBA/SPE","x":-0.66,"y":-19.3},{"s":"ncDNA-DNA probe-GNS-PBA/SPE","x":-0.64,"y":-19.2},{"s":"ncDNA-DNA probe-GNS-PBA/SPE","x":-0.62,"y":-19.0},{"s":"ncDNA-DNA probe-GNS-PBA/SPE","x":-0.60,"y":-18.3},{"s":"ncDNA-DNA probe-GNS-PBA/SPE","x":-0.58,"y":-17.2},{"s":"ncDNA-DNA probe-GNS-PBA/SPE","x":-0.56,"y":-15.8},{"s":"ncDNA-DNA probe-GNS-PBA/SPE","x":-0.54,"y":-14.3},{"s":"ncDNA-DNA probe-GNS-PBA/SPE","x":-0.52,"y":-12.6},{"s":"ncDNA-DNA probe-GNS-PBA/SPE","x":-0.50,"y":-10.9},{"s":"ncDNA-DNA probe-GNS-PBA/SPE","x":-0.48,"y":-9.4},{"s":"ncDNA-DNA probe-GNS-PBA/SPE","x":-0.46,"y":-8.1},{"s":"ncDNA-DNA probe-GNS-PBA/SPE","x":-0.44,"y":-6.9},{"s":"ncDNA-DNA probe-GNS-PBA/SPE","x":-0.42,"y":-5.9},{"s":"ncDNA-DNA probe-GNS-PBA/SPE","x":-0.40,"y":-5.0},{"s":"ncDNA-DNA probe-GNS-PBA/SPE","x":-0.38,"y":-4.3},{"s":"ncDNA-DNA probe-GNS-PBA/SPE","x":-0.36,"y":-3.5},{"s":"ncDNA-DNA probe-GNS-PBA/SPE","x":-0.34,"y":-2.9},{"s":"ncDNA-DNA probe-GNS-PBA/SPE","x":-0.32,"y":-2.3},{"s":"ncDNA-DNA probe-GNS-PBA/SPE","x":-0.30,"y":-1.8},{"s":"ncDNA-DNA probe-GNS-PBA/SPE","x":-0.28,"y":-1.4},{"s":"ncDNA-DNA probe-GNS-PBA/SPE","x":-0.26,"y":-1.0},{"s":"ncDNA-DNA probe-GNS-PBA/SPE","x":-0.24,"y":-0.6},{"s":"ncDNA-DNA probe-GNS-PBA/SPE","x":-0.22,"y":-0.2},{"s":"ncDNA-DNA probe-GNS-PBA/SPE","x":-0.20,"y":0.2},{"s":"ncDNA-DNA probe-GNS-PBA/SPE","x":-0.18,"y":0.6},{"s":"ncDNA-DNA probe-GNS-PBA/SPE","x":-0.16,"y":1.1},{"s":"ncDNA-DNA probe-GNS-PBA/SPE","x":-0.14,"y":1.7},{"s":"ncDNA-DNA probe-GNS-PBA/SPE","x":-0.12,"y":2.7},{"s":"ncDNA-DNA probe-GNS-PBA/SPE","x":-0.10,"y":3.7},
      {"s":"cDNA-DNA probe-GNS-PBA/SPE","x":-0.80,"y":-26.0},{"s":"cDNA-DNA probe-GNS-PBA/SPE","x":-0.78,"y":-20.5},{"s":"cDNA-DNA probe-GNS-PBA/SPE","x":-0.76,"y":-16.8},{"s":"cDNA-DNA probe-GNS-PBA/SPE","x":-0.74,"y":-14.6},{"s":"cDNA-DNA probe-GNS-PBA/SPE","x":-0.72,"y":-12.8},{"s":"cDNA-DNA probe-GNS-PBA/SPE","x":-0.70,"y":-11.2},{"s":"cDNA-DNA probe-GNS-PBA/SPE","x":-0.68,"y":-9.9},{"s":"cDNA-DNA probe-GNS-PBA/SPE","x":-0.66,"y":-8.8},{"s":"cDNA-DNA probe-GNS-PBA/SPE","x":-0.64,"y":-7.6},{"s":"cDNA-DNA probe-GNS-PBA/SPE","x":-0.62,"y":-6.8},{"s":"cDNA-DNA probe-GNS-PBA/SPE","x":-0.60,"y":-5.9},{"s":"cDNA-DNA probe-GNS-PBA/SPE","x":-0.58,"y":-4.7},{"s":"cDNA-DNA probe-GNS-PBA/SPE","x":-0.56,"y":-3.5},{"s":"cDNA-DNA probe-GNS-PBA/SPE","x":-0.54,"y":-2.2},{"s":"cDNA-DNA probe-GNS-PBA/SPE","x":-0.52,"y":-0.6},{"s":"cDNA-DNA probe-GNS-PBA/SPE","x":-0.50,"y":0.9},{"s":"cDNA-DNA probe-GNS-PBA/SPE","x":-0.48,"y":2.4},{"s":"cDNA-DNA probe-GNS-PBA/SPE","x":-0.46,"y":3.6},{"s":"cDNA-DNA probe-GNS-PBA/SPE","x":-0.44,"y":4.8},{"s":"cDNA-DNA probe-GNS-PBA/SPE","x":-0.42,"y":5.8},{"s":"cDNA-DNA probe-GNS-PBA/SPE","x":-0.40,"y":6.7},{"s":"cDNA-DNA probe-GNS-PBA/SPE","x":-0.38,"y":7.5},{"s":"cDNA-DNA probe-GNS-PBA/SPE","x":-0.36,"y":8.1},{"s":"cDNA-DNA probe-GNS-PBA/SPE","x":-0.34,"y":8.5},{"s":"cDNA-DNA probe-GNS-PBA/SPE","x":-0.32,"y":8.6},{"s":"cDNA-DNA probe-GNS-PBA/SPE","x":-0.30,"y":8.5},{"s":"cDNA-DNA probe-GNS-PBA/SPE","x":-0.28,"y":8.2},{"s":"cDNA-DNA probe-GNS-PBA/SPE","x":-0.26,"y":7.7},{"s":"cDNA-DNA probe-GNS-PBA/SPE","x":-0.24,"y":7.3},{"s":"cDNA-DNA probe-GNS-PBA/SPE","x":-0.22,"y":7.0},{"s":"cDNA-DNA probe-GNS-PBA/SPE","x":-0.20,"y":6.9},{"s":"cDNA-DNA probe-GNS-PBA/SPE","x":-0.18,"y":6.8},{"s":"cDNA-DNA probe-GNS-PBA/SPE","x":-0.16,"y":6.8},{"s":"cDNA-DNA probe-GNS-PBA/SPE","x":-0.14,"y":6.8},{"s":"cDNA-DNA probe-GNS-PBA/SPE","x":-0.12,"y":6.9},{"s":"cDNA-DNA probe-GNS-PBA/SPE","x":-0.10,"y":7.0},{"s":"cDNA-DNA probe-GNS-PBA/SPE","x":-0.08,"y":7.2},
      {"s":"cDNA-DNA probe-GNS-PBA/SPE","x":-0.78,"y":-23.7},{"s":"cDNA-DNA probe-GNS-PBA/SPE","x":-0.76,"y":-23.5},{"s":"cDNA-DNA probe-GNS-PBA/SPE","x":-0.74,"y":-23.5},{"s":"cDNA-DNA probe-GNS-PBA/SPE","x":-0.72,"y":-23.5},{"s":"cDNA-DNA probe-GNS-PBA/SPE","x":-0.70,"y":-23.8},{"s":"cDNA-DNA probe-GNS-PBA/SPE","x":-0.68,"y":-24.1},{"s":"cDNA-DNA probe-GNS-PBA/SPE","x":-0.66,"y":-24.7},{"s":"cDNA-DNA probe-GNS-PBA/SPE","x":-0.64,"y":-25.1},{"s":"cDNA-DNA probe-GNS-PBA/SPE","x":-0.62,"y":-25.7},{"s":"cDNA-DNA probe-GNS-PBA/SPE","x":-0.60,"y":-26.1},{"s":"cDNA-DNA probe-GNS-PBA/SPE","x":-0.58,"y":-26.3},{"s":"cDNA-DNA probe-GNS-PBA/SPE","x":-0.56,"y":-25.9},{"s":"cDNA-DNA probe-GNS-PBA/SPE","x":-0.54,"y":-24.1},{"s":"cDNA-DNA probe-GNS-PBA/SPE","x":-0.52,"y":-21.1},{"s":"cDNA-DNA probe-GNS-PBA/SPE","x":-0.50,"y":-17.9},{"s":"cDNA-DNA probe-GNS-PBA/SPE","x":-0.48,"y":-14.9},{"s":"cDNA-DNA probe-GNS-PBA/SPE","x":-0.46,"y":-12.1},{"s":"cDNA-DNA probe-GNS-PBA/SPE","x":-0.44,"y":-9.8},{"s":"cDNA-DNA probe-GNS-PBA/SPE","x":-0.42,"y":-8.1},{"s":"cDNA-DNA probe-GNS-PBA/SPE","x":-0.40,"y":-7.0},{"s":"cDNA-DNA probe-GNS-PBA/SPE","x":-0.38,"y":-5.8},{"s":"cDNA-DNA probe-GNS-PBA/SPE","x":-0.36,"y":-5.2},{"s":"cDNA-DNA probe-GNS-PBA/SPE","x":-0.34,"y":-4.7},{"s":"cDNA-DNA probe-GNS-PBA/SPE","x":-0.32,"y":-4.2},{"s":"cDNA-DNA probe-GNS-PBA/SPE","x":-0.30,"y":-3.7},{"s":"cDNA-DNA probe-GNS-PBA/SPE","x":-0.28,"y":-3.2},{"s":"cDNA-DNA probe-GNS-PBA/SPE","x":-0.26,"y":-2.7},{"s":"cDNA-DNA probe-GNS-PBA/SPE","x":-0.24,"y":-2.2},{"s":"cDNA-DNA probe-GNS-PBA/SPE","x":-0.22,"y":-1.7},{"s":"cDNA-DNA probe-GNS-PBA/SPE","x":-0.20,"y":-1.2},{"s":"cDNA-DNA probe-GNS-PBA/SPE","x":-0.18,"y":-0.6},{"s":"cDNA-DNA probe-GNS-PBA/SPE","x":-0.16,"y":0.4},{"s":"cDNA-DNA probe-GNS-PBA/SPE","x":-0.14,"y":1.8},{"s":"cDNA-DNA probe-GNS-PBA/SPE","x":-0.12,"y":3.0},{"s":"cDNA-DNA probe-GNS-PBA/SPE","x":-0.10,"y":4.4}
    ],
    "none": []
  },
  "spacing": 40,
  "resolve": {
    "scale": {"color": "independent", "shape": "independent", "size": "independent", "opacity": "independent", "x": "independent", "y": "independent"},
    "legend": {"color": "independent", "shape": "independent"}
  },
  "vconcat": [
    {
      "spacing": -76,
      "hconcat": [
        {
          "width": 1,
          "height": 1,
          "view": {"stroke": null},
          "data": {"name": "none"},
          "mark": "point",
          "encoding": {}
        },
        {
          "width": 547,
          "height": 379,
          "title": {"text": "(a)", "anchor": "start", "frame": "group", "dx": -90, "offset": -35, "font": "Liberation Serif", "fontSize": 22, "fontWeight": "bold", "color": "#1a1a1a", "baseline": "alphabetic"},
          "data": {"name": "a"},
          "mark": {"type": "point", "filled": true, "opacity": 1, "size": 64},
          "encoding": {
            "x": {"field": "x", "type": "quantitative", "scale": {"domain": [-0.6, 0.9], "nice": false, "zero": false},
              "axis": {"values": [-0.6, -0.1, 0.4, 0.9], "labelExpr": "'' + datum.value", "title": "Potential (V)", "titleX": 276, "titleY": 48, "titleBaseline": "middle", "titleFont": "DejaVu Serif", "titleFontSize": 17, "titleFontWeight": "bold", "labelFont": "DejaVu Serif", "labelFontSize": 16, "tickSize": 6, "labelPadding": 13, "labelFlush": false}},
            "y": {"field": "y", "type": "quantitative", "scale": {"domain": [-14, 8], "nice": false, "zero": false},
              "axis": {"values": [8, 6, 4, 2, 0, -2, -4, -6, -8, -10, -12, -14], "labelExpr": "replace(format(datum.value <= -10 ? datum.value / 10 : datum.value, '.1f'), '\u2212', '-')", "title": "Current (µA)", "titleX": -67, "titleY": 223, "titleFont": "DejaVu Serif", "titleFontSize": 17, "titleFontWeight": "bold", "labelFont": "DejaVu Serif", "labelFontSize": 16, "tickSize": 6, "labelPadding": 14}},
            "color": {"field": "s", "type": "nominal", "scale": {"domain": ["GNS/SPE", "SPE", "GNS-PBA/SPE"], "range": ["#38a6c6", "#a9b8ee", "#c2d98b"]},
              "legend": {"title": null, "orient": "none", "legendX": 387, "legendY": 225, "labelFont": "Liberation Serif", "labelFontSize": 20, "labelColor": "#1a1a1a", "symbolSize": 70, "rowPadding": 24, "labelOffset": 11}},
            "shape": {"field": "s", "type": "nominal", "scale": {"domain": ["GNS/SPE", "SPE", "GNS-PBA/SPE"], "range": ["circle", "square", "triangle-up"]}}
          }
        }
      ]
    },
    {
      "width": 562,
      "height": 327,
      "title": {"text": "(b)", "anchor": "start", "frame": "group", "dx": -75, "offset": -43, "font": "Liberation Serif", "fontSize": 22, "fontWeight": "bold", "color": "#1a1a1a", "baseline": "alphabetic"},
      "data": {"name": "b"},
      "mark": {"type": "point", "filled": true},
      "encoding": {
        "x": {"field": "x", "type": "quantitative", "scale": {"domain": [-0.9, 0.2], "nice": false, "zero": false},
          "axis": {"values": [-0.8, -0.6, -0.4, -0.2, 0, 0.2], "labelExpr": "'' + datum.value", "title": "Potential (V)", "titleX": 314, "titleY": 42, "titleBaseline": "middle", "titleFont": "Liberation Serif", "titleFontSize": 17, "titleFontWeight": "bold", "labelFont": "DejaVu Serif", "labelFontSize": 14, "tickSize": 7, "labelPadding": 12, "labelFlush": false}},
        "y": {"field": "y", "type": "quantitative", "scale": {"domain": [-30, 15], "nice": false, "zero": false},
          "axis": {"values": [15, 10, 5, 0, -5, -10, -15, -20, -25, -30], "labelExpr": "replace(format(abs(datum.value) == 5 ? datum.value : datum.value / 10, '.1f'), '\u2212', '-')", "title": "Current  (µA)", "titleX": -44, "titleY": 148, "titleFont": "Liberation Serif", "titleFontSize": 17, "titleFontWeight": "bold", "labelFont": "DejaVu Serif", "labelFontSize": 14, "tickSize": 6, "labelPadding": 7}},
        "color": {"field": "s", "type": "nominal", "scale": {"domain": ["GNS-PBA/SPE", "DNA probe-GNS-PBA/SPE", "ncDNA-DNA probe-GNS-PBA/SPE", "cDNA-DNA probe-GNS-PBA/SPE"], "range": ["#8e2b30", "#c04a45", "#da8583", "#e6bfc3"]},
          "legend": {"title": null, "orient": "none", "legendX": 274, "legendY": 182, "labelFont": "Liberation Serif", "labelFontSize": 16, "labelColor": "#1a1a1a", "symbolSize": 60, "rowPadding": 17, "labelOffset": 9, "labelLimit": 300}},
        "shape": {"field": "s", "type": "nominal", "scale": {"domain": ["GNS-PBA/SPE", "DNA probe-GNS-PBA/SPE", "ncDNA-DNA probe-GNS-PBA/SPE", "cDNA-DNA probe-GNS-PBA/SPE"], "range": ["diamond", "circle", "triangle-up", "square"]}},
        "size": {"field": "s", "type": "nominal", "scale": {"domain": ["GNS-PBA/SPE", "DNA probe-GNS-PBA/SPE", "ncDNA-DNA probe-GNS-PBA/SPE", "cDNA-DNA probe-GNS-PBA/SPE"], "range": [55, 70, 60, 100]}, "legend": null},
        "opacity": {"field": "s", "type": "nominal", "scale": {"domain": ["GNS-PBA/SPE", "DNA probe-GNS-PBA/SPE", "ncDNA-DNA probe-GNS-PBA/SPE", "cDNA-DNA probe-GNS-PBA/SPE"], "range": [1, 1, 0.9, 0.85]}, "legend": null}
      }
    }
  ]
}
